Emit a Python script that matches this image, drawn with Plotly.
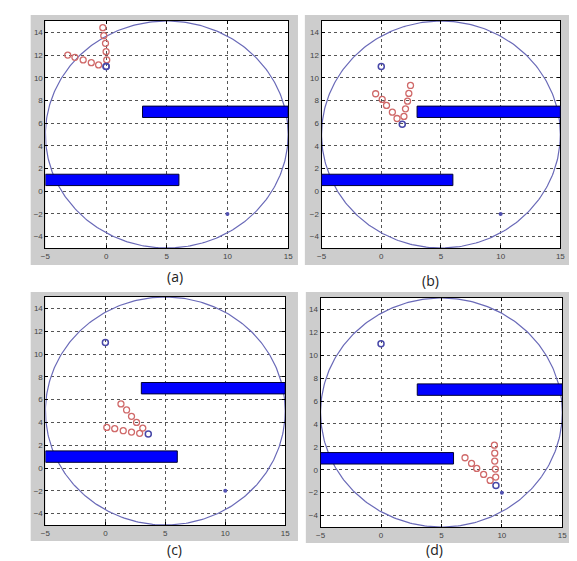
import numpy as np
import plotly.graph_objects as go

W, H = 577, 561

# ---- data ----
circle_center = (5, 5)
circle_radius = 10
obstacles = [  # (x0, x1, y0, y1)
    (3, 15, 6.5, 7.5),
    (-5, 6, 0.5, 1.5),
]
goal = (10, -2)
start = (0, 11)

panel_labels = ["(a)", "(b)", "(c)", "(d)"]
current_x = [0.0, 1.76, 3.58, 9.51]
current_y = [11.0, 5.9, 2.98, -1.37]

red_x = [
    [-0.27, -0.19, -0.05, 0.0, 0.05, -3.16, -2.57, -1.89, -1.22, -0.62],
    [1.32, 0.93, 0.44, 0.08, -0.47, 1.9, 2.03, 2.2, 2.31, 2.45],
    [1.3, 1.77, 2.18, 2.6, 3.12, 0.12, 0.78, 1.49, 2.18, 2.86],
    [9.38, 9.41, 9.41, 9.46, 9.49, 6.95, 7.49, 7.92, 8.49, 9.03],
]
red_y = [
    [14.41, 13.71, 13.03, 12.3, 11.57, 12.0, 11.8, 11.57, 11.33, 11.13],
    [6.41, 6.97, 7.56, 8.09, 8.59, 6.59, 7.26, 7.94, 8.62, 9.32],
    [5.62, 5.09, 4.53, 4.0, 3.5, 3.56, 3.45, 3.27, 3.15, 3.04],
    [2.15, 1.45, 0.76, 0.06, -0.64, 1.05, 0.55, 0.12, -0.41, -0.93],
]

x_ticks = [-5, 0, 5, 10, 15]
y_ticks = [-4, -2, 0, 2, 4, 6, 8, 10, 12, 14]

# ---- layout (pixel boxes) ----
plot_boxes = [(33, 280, 13, 240), (314, 557, 13, 240), (33, 277, 289, 517), (313, 559, 290, 519)]
frame_boxes = [(18, 290, 7, 257), (297, 568, 7, 257), (18, 290, 284, 533), (298, 570, 284, 535)]
label_pos = [(155, 268), (436, 273), (155, 553), (440, 553)]

fig = go.Figure()
shapes = []
annotations = []
layout = {}

theta = np.linspace(0, 2 * np.pi, 361)
cx = circle_center[0] + circle_radius * np.cos(theta)
cy = circle_center[1] + circle_radius * np.sin(theta)

for i in range(4):
    n = "" if i == 0 else str(i + 1)
    xa, ya = "x" + n, "y" + n
    x0, x1, y0, y1 = plot_boxes[i]
    common = dict(
        showline=True, linecolor="black", linewidth=1, mirror="ticks",
        ticks="inside", ticklen=3, tickcolor="black",
        showgrid=True, gridcolor="#555", gridwidth=1, griddash="dot",
        zeroline=False, tickfont=dict(size=8, color="#444", family="Arial, Liberation Sans"),
        fixedrange=True,
    )
    layout["xaxis" + n] = dict(common, domain=[x0 / W, x1 / W], range=[-5, 15],
                               tickvals=x_ticks, anchor=ya)
    layout["yaxis" + n] = dict(common, domain=[1 - y1 / H, 1 - y0 / H], range=[-5, 15],
                               tickvals=y_ticks, anchor=xa)

    fx0, fx1, fy0, fy1 = frame_boxes[i]
    shapes.append(dict(type="rect", xref="paper", yref="paper", layer="below",
                       x0=fx0 / W, x1=fx1 / W, y0=1 - fy1 / H, y1=1 - fy0 / H,
                       fillcolor="#cdcdcd", line=dict(width=0)))
    shapes.append(dict(type="rect", xref=xa + " domain", yref=ya + " domain", layer="below",
                       x0=0, x1=1, y0=0, y1=1, fillcolor="white", line=dict(width=0)))
    for (ox0, ox1, oy0, oy1) in obstacles:
        shapes.append(dict(type="rect", xref=xa, yref=ya, x0=ox0, x1=ox1, y0=oy0, y1=oy1,
                           fillcolor="#0000ff", line=dict(color="#000033", width=1)))

    fig.add_trace(go.Scatter(x=cx, y=cy, mode="lines", xaxis=xa, yaxis=ya,
                             line=dict(color="#6a6ab8", width=1.2), hoverinfo="skip"))
    fig.add_trace(go.Scatter(x=red_x[i], y=red_y[i], mode="markers", xaxis=xa, yaxis=ya,
                             marker=dict(symbol="circle-open", size=6, color="#d06a6a",
                                         line=dict(width=1.3))))
    fig.add_trace(go.Scatter(x=[start[0], current_x[i]], y=[start[1], current_y[i]],
                             mode="markers", xaxis=xa, yaxis=ya,
                             marker=dict(symbol="circle-open", size=6, color="#4848a8",
                                         line=dict(width=1.5))))
    fig.add_trace(go.Scatter(x=[goal[0]], y=[goal[1]], mode="markers", xaxis=xa, yaxis=ya,
                             marker=dict(symbol="circle", size=4, color="#5050b0")))

    lx, ly = label_pos[i]
    annotations.append(dict(text=panel_labels[i], xref="paper", yref="paper",
                            x=lx / W, y=1 - ly / H, showarrow=False,
                            font=dict(size=14, color="#222", family="Open Sans")))

fig.update_layout(width=W, height=H, margin=dict(l=0, r=0, t=0, b=0),
                  paper_bgcolor="white", plot_bgcolor="white", showlegend=False,
                  shapes=shapes, annotations=annotations, **layout)

fig.write_html("out.html")
